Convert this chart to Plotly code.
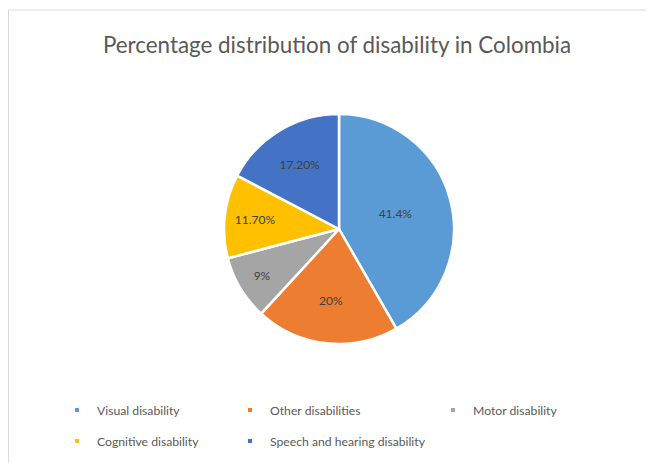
import plotly.graph_objects as go

categories = ["Visual disability", "Other disabilities", "Motor disability",
              "Cognitive disability", "Speech and hearing disability"]
values = [41.4, 20, 9, 11.7, 17.2]
value_labels = ["41.4%", "20%", "9%", "11.70%", "17.20%"]
colors = ["#5B9BD5", "#ED7D31", "#A5A5A5", "#FFC000", "#4472C4"]

W, H = 654, 463
OFF = 8  # page body margin offset
FONT = "Lato, 'Open Sans', sans-serif"


def fx(px):
    return (px - OFF) / W


def fy(py):
    return 1 - (py - OFF) / H


CX, CY, R = 339, 229, 115

fig = go.Figure()
fig.add_trace(go.Pie(
    labels=categories,
    values=values,
    text=value_labels,
    texttemplate="%{text}",
    textposition="inside",
    insidetextorientation="horizontal",
    textfont=dict(color="#404040", size=12, family=FONT),
    sort=False,
    direction="clockwise",
    rotation=0,
    marker=dict(colors=colors, line=dict(color="white", width=2.5)),
    showlegend=False,
    hoverinfo="label+text",
    domain=dict(x=[fx(CX - R), fx(CX + R)], y=[fy(CY + R), fy(CY - R)]),
))

# legend entries (small square markers like the original)
legend_pos = [(97, 410), (270, 410), (473, 410), (97, 441), (270, 441)]
legend_names = ["legend", "legend2", "legend3", "legend4", "legend5"]
layout_legends = {}
for i, (cat, col) in enumerate(zip(categories, colors)):
    fig.add_trace(go.Scatter(
        x=[None], y=[None], mode="markers", name=cat,
        marker=dict(symbol="square", size=4, color=col),
        legend=legend_names[i], showlegend=True,
    ))
    px, py = legend_pos[i]
    layout_legends[legend_names[i]] = dict(
        x=fx(px - 40), y=fy(py), xanchor="left", yanchor="middle",
        xref="paper", yref="paper",
        font=dict(size=12.2, color="#595959", family=FONT),
        bgcolor="rgba(0,0,0,0)", borderwidth=0, itemwidth=30,
    )

fig.update_layout(
    width=W, height=H,
    margin=dict(l=0, r=0, t=0, b=0),
    paper_bgcolor="white", plot_bgcolor="white",
    title=dict(text="Percentage distribution of disability in Colombia",
               x=fx(337), y=fy(45), xanchor="center", yanchor="middle",
               font=dict(size=22.4, color="#595959", family=FONT)),
    xaxis=dict(visible=False), yaxis=dict(visible=False),
    shapes=[dict(type="rect", xref="paper", yref="paper",
                 x0=fx(8) + 0.0008, x1=1.05, y0=-0.05, y1=fy(10),
                 line=dict(color="#D9D9D9", width=1), fillcolor="rgba(0,0,0,0)",
                 layer="below")],
    **layout_legends,
)

fig.write_html("out.html")
